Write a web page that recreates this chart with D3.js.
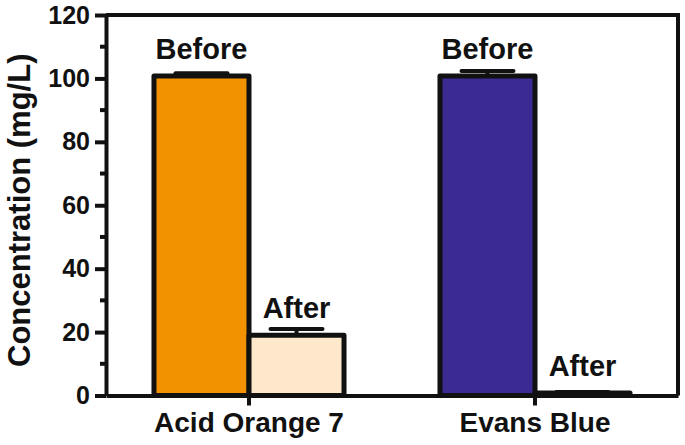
<!DOCTYPE html>
<html><head><meta charset="utf-8">
<script src="https://cdn.jsdelivr.net/npm/d3@7"></script>
<style>body{margin:0;background:#fff}svg{display:block}</style>
</head><body>
<svg id="c" width="685" height="445"></svg>
<script>
const categories = ["Acid Orange 7", "Evans Blue"];
const conditions = ["Before", "After"];
const beforeValues = [100.8, 100.8];
const beforeErrors = [0.8, 1.5];
const afterValues = [19.0, 0.8];
const afterErrors = [2.0, 0.3];
const beforeColors = ["#F39200", "#3A2A92"];
const afterColors = ["#FDE8CB", "#FFFFFF"];
const yTicks = [0, 20, 40, 60, 80, 100, 120];
const yMinorTicks = [10, 30, 50, 70, 90, 110];
const yTitle = "Concentration (mg/L)";

const rows = [];
categories.forEach((c, i) => {
  rows.push({cat: c, cond: "Before", v: beforeValues[i], e: beforeErrors[i], fill: beforeColors[i]});
  rows.push({cat: c, cond: "After", v: afterValues[i], e: afterErrors[i], fill: afterColors[i]});
});

const svg = d3.select("#c");
const mLeft = 106, mRight = 678, mTop = 15, mBottom = 395.5;
const font = "'Liberation Sans', Arial, sans-serif";
const ink = "#111";

const y = d3.scaleLinear().domain([0, 120]).range([mBottom, mTop]);
const x0 = d3.scaleBand().domain(categories).range([mLeft, mRight]).padding(0);
const x1 = d3.scaleBand().domain(conditions).range([0, x0.bandwidth()]).paddingInner(0).paddingOuter(0.505);

// frame (top and right)
svg.append("path")
  .attr("d", `M${mLeft},${mTop}H${mRight}V${mBottom}`)
  .attr("fill", "none").attr("stroke", ink).attr("stroke-width", 4);

// bars
const g = svg.append("g");
g.selectAll("rect.bar").data(rows).join("rect")
  .attr("class", "bar")
  .attr("x", d => x0(d.cat) + x1(d.cond))
  .attr("width", x1.bandwidth())
  .attr("y", d => y(d.v))
  .attr("height", d => y(0) - y(d.v))
  .attr("fill", d => d.fill)
  .attr("stroke", ink).attr("stroke-width", 5).attr("stroke-linejoin", "round");

// error bars
const capHalf = 26;
const eb = g.selectAll("g.err").data(rows).join("g").attr("class", "err");
eb.append("line")
  .attr("x1", d => x0(d.cat) + x1(d.cond) + x1.bandwidth() / 2)
  .attr("x2", d => x0(d.cat) + x1(d.cond) + x1.bandwidth() / 2)
  .attr("y1", d => y(d.v)).attr("y2", d => y(d.v + d.e))
  .attr("stroke", ink).attr("stroke-width", 4);
eb.append("line")
  .attr("x1", d => x0(d.cat) + x1(d.cond) + x1.bandwidth() / 2 - capHalf)
  .attr("x2", d => x0(d.cat) + x1(d.cond) + x1.bandwidth() / 2 + capHalf)
  .attr("y1", d => y(d.v + d.e)).attr("y2", d => y(d.v + d.e))
  .attr("stroke", ink).attr("stroke-width", 4).attr("stroke-linecap", "round");

// bar labels
g.selectAll("text.lab").data(rows).join("text")
  .attr("class", "lab")
  .attr("x", d => x0(d.cat) + x1(d.cond) + x1.bandwidth() / 2)
  .attr("y", d => y(d.v) - 17)
  .attr("text-anchor", "middle")
  .attr("font-family", font).attr("font-weight", "bold").attr("font-size", 29)
  .attr("fill", ink)
  .text(d => d.cond);

// y axis
const yAxis = svg.append("g").attr("transform", `translate(${mLeft},0)`)
  .call(d3.axisLeft(y).tickValues(yTicks).tickFormat(d3.format("d")).tickSize(11).tickSizeOuter(0).tickPadding(5));
yAxis.select(".domain").attr("stroke", ink).attr("stroke-width", 4);
yAxis.selectAll(".tick line").attr("stroke", ink).attr("stroke-width", 4);
yAxis.selectAll(".tick text").attr("font-family", font).attr("font-weight", "bold").attr("font-size", 25).attr("fill", ink);
yAxis.selectAll("line.minor").data(yMinorTicks).join("line").attr("class", "minor")
  .attr("x1", -6).attr("x2", 0).attr("y1", d => y(d)).attr("y2", d => y(d))
  .attr("stroke", ink).attr("stroke-width", 4);

// x axis
const xAxis = svg.append("g").attr("transform", `translate(0,${mBottom})`)
  .call(d3.axisBottom(x0).tickSize(10).tickSizeOuter(0).tickPadding(7));
xAxis.select(".domain").attr("stroke", ink).attr("stroke-width", 4);
xAxis.selectAll(".tick line").attr("stroke", ink).attr("stroke-width", 4);
xAxis.selectAll(".tick text").attr("font-family", font).attr("font-weight", "bold").attr("font-size", 28).attr("fill", ink);

// y title
svg.append("text")
  .attr("transform", `translate(30,${(mTop + mBottom) / 2 + 5}) rotate(-90)`)
  .attr("text-anchor", "middle")
  .attr("font-family", font).attr("font-weight", "bold").attr("font-size", 31)
  .attr("fill", ink)
  .text(yTitle);
</script>
</body></html>
